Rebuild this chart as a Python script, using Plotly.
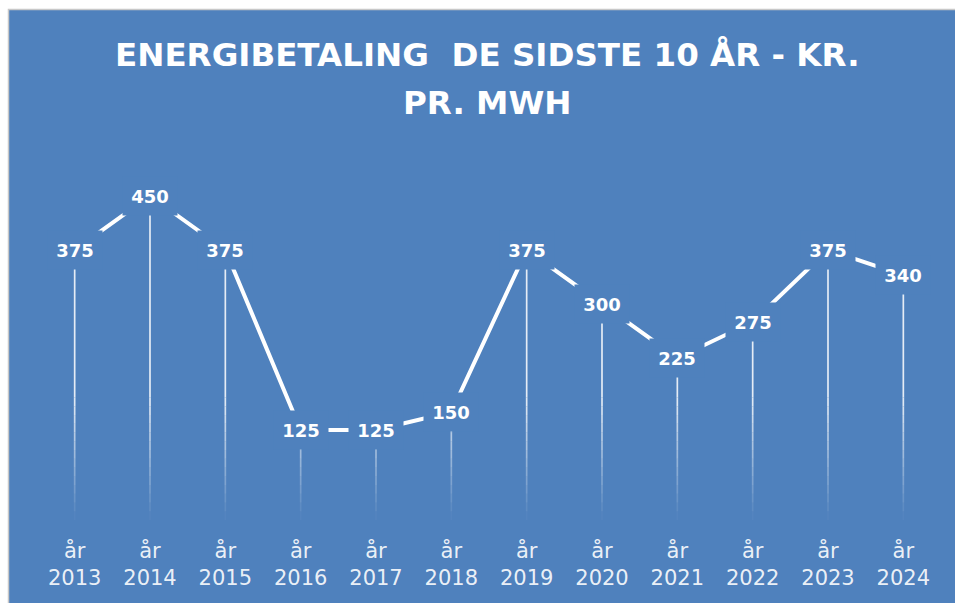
import plotly.graph_objects as go

years = ["2013", "2014", "2015", "2016", "2017", "2018", "2019", "2020", "2021", "2022", "2023", "2024"]
values = [375, 450, 375, 125, 125, 150, 375, 300, 225, 275, 375, 340]
tick_labels = ["år<br>" + y for y in years]
title_line1 = "ENERGIBETALING\u00a0 DE SIDSTE 10 ÅR - KR."
title_line2 = "PR. MWH"

BLUE = "#4F81BD"
W, H = 955, 603
ML, MR, MT, MB = 37, 14, 170, 83
PW, PH = W - ML - MR, H - MT - MB
YMAX = 486.0


def px_to_paper_x(px):
    return (px - ML) / PW


def py_to_paper_y(py):
    return (H - MB - py) / PH


fig = go.Figure()

# drop lines with a fading tail (derived from each data value)
FADE_TOP = 170.0
STEPS = 14
TOP_ALPHA = 0.85
xs, ys = [], []
for yr, v in zip(years, values):
    if v > FADE_TOP:
        xs += [yr, yr, None]
        ys += [v, FADE_TOP, None]
fig.add_trace(go.Scatter(x=xs, y=ys, mode="lines", hoverinfo="skip", showlegend=False,
                         line=dict(color=f"rgba(255,255,255,{TOP_ALPHA})", width=1.7)))
step = FADE_TOP / STEPS
for i in range(STEPS):
    hi = FADE_TOP - i * step
    lo = hi - step
    alpha = TOP_ALPHA * (1 - (i + 0.5) / STEPS)
    xs, ys = [], []
    for yr, v in zip(years, values):
        top = min(v, hi)
        if top > lo:
            xs += [yr, yr, None]
            ys += [top, lo, None]
    fig.add_trace(go.Scatter(x=xs, y=ys, mode="lines", hoverinfo="skip", showlegend=False,
                             line=dict(color=f"rgba(255,255,255,{alpha:.3f})", width=1.7)))

# main line
fig.add_trace(go.Scatter(x=years, y=values, mode="lines", showlegend=False,
                         line=dict(color="white", width=4)))

# data labels with blue box (breaks the line around the label)
for i, v in enumerate(values):
    fig.add_annotation(x=i, y=v, xref="x", yref="y", text=str(v), showarrow=False,
                       font=dict(family="DejaVu Sans", size=18, color="white", weight="bold"),
                       bgcolor=BLUE, width=54, height=38, borderpad=0,
                       xanchor="center", yanchor="middle")

# title lines
fig.add_annotation(x=px_to_paper_x(487), y=py_to_paper_y(55), xref="paper", yref="paper",
                   text=title_line1, showarrow=False, xanchor="center", yanchor="middle",
                   font=dict(family="DejaVu Sans", size=32.5, color="white", weight="bold"))
fig.add_annotation(x=px_to_paper_x(487), y=py_to_paper_y(103), xref="paper", yref="paper",
                   text=title_line2, showarrow=False, xanchor="center", yanchor="middle",
                   font=dict(family="DejaVu Sans", size=32.5, color="white", weight="bold"))

# blue chart area with grey border on top/left (white page strip outside)
fig.add_shape(type="rect", xref="paper", yref="paper", layer="below",
              x0=px_to_paper_x(8.5), x1=px_to_paper_x(W + 20),
              y0=py_to_paper_y(H + 20), y1=py_to_paper_y(9.5),
              fillcolor=BLUE, line=dict(color="#C8C8C8", width=1.5))

fig.update_layout(
    width=W, height=H,
    margin=dict(l=ML, r=MR, t=MT, b=MB, pad=0),
    paper_bgcolor="white",
    plot_bgcolor="rgba(0,0,0,0)",
    showlegend=False,
    xaxis=dict(type="category", categoryorder="array", categoryarray=years,
               range=[-0.5, len(years) - 0.5], tickvals=years, ticktext=tick_labels,
               showgrid=False, zeroline=False, showline=False, ticks="",
               tickfont=dict(family="DejaVu Sans", size=21, color="rgba(255,255,255,0.9)"),
               ticklabelstandoff=16, fixedrange=True),
    yaxis=dict(range=[0, YMAX], showgrid=False, zeroline=False, showline=False,
               showticklabels=False, ticks="", fixedrange=True),
)

fig.write_html("out.html", config={"displayModeBar": False},
               post_script="document.body.style.margin='0';document.body.style.overflow='hidden';")
